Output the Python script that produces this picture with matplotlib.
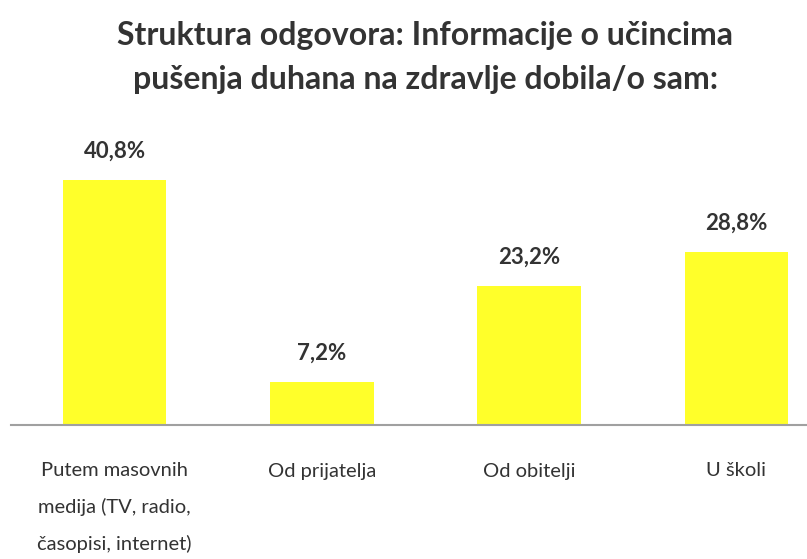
"""
Struktura odgovora - bar chart recreation.
"""

import matplotlib.pyplot as plt

categories = [
    "Putem masovnih\nmedija (TV, radio,\nčasopisi, internet)",
    "Od prijatelja",
    "Od obitelji",
    "U školi",
]
values = [40.8, 7.2, 23.2, 28.8]
value_labels = ["40,8%", "7,2%", "23,2%", "28,8%"]

TITLE = "Struktura odgovora: Informacije o učincima\npušenja duhana na zdravlje dobila/o sam:"
FONT = ["Lato", "DejaVu Sans"]
BAR_COLOR = "#ffff2a"
TEXT_COLOR = "#333333"

plt.rcParams["font.family"] = FONT

fig = plt.figure(figsize=(8.07, 5.59), dpi=100)
# axes runs a little past the right edge, as in the reference crop
ax = fig.add_axes([11 / 807, 134 / 559, 829 / 807, 245 / 559 * (45 / 40.8)])

x = range(len(categories))
ax.bar(x, values, width=0.5, color=BAR_COLOR, zorder=2)

for xi, v, lab in zip(x, values, value_labels):
    ax.text(xi, v + 3.0, lab, ha="center", va="bottom", fontsize=16,
            fontweight="bold", color=TEXT_COLOR)

ax.set_xlim(-0.5, len(categories) - 0.5)
ax.set_ylim(0, 45)
ax.set_xticks(list(x))
ax.set_xticklabels(categories, fontsize=14.5, color=TEXT_COLOR, linespacing=2.25,
                   va="top")
ax.tick_params(axis="x", length=0, pad=27)
ax.set_yticks([])
for side in ["top", "right", "left"]:
    ax.spines[side].set_visible(False)
ax.spines["bottom"].set_color("#a0a0a0")
ax.spines["bottom"].set_linewidth(1.5)

fig.text(0.527, 0.962, TITLE, ha="center", va="top", fontsize=23,
         fontweight="bold", color=TEXT_COLOR, linespacing=1.6)

fig.savefig("out.png", dpi=100)
